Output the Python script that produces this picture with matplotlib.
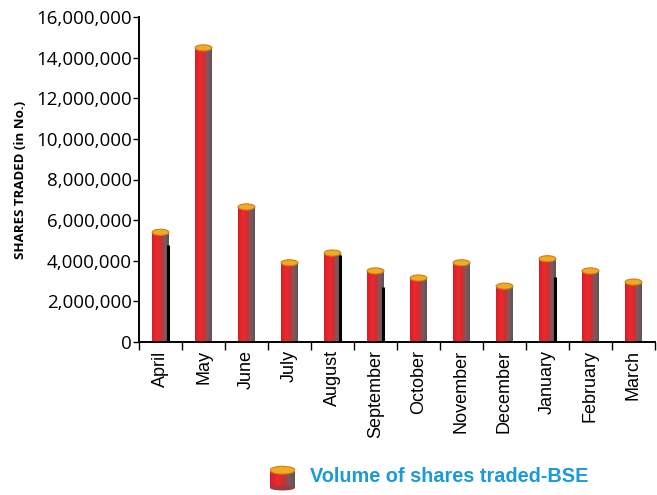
import numpy as np
import matplotlib.pyplot as plt
from matplotlib.colors import LinearSegmentedColormap
from matplotlib.patches import Ellipse, Rectangle
from matplotlib.ticker import FuncFormatter

# Monthly volume of shares traded on BSE
months = ['April', 'May', 'June', 'July', 'August', 'September', 'October',
          'November', 'December', 'January', 'February', 'March']
volume = [5400000, 14480000, 6650000, 3900000, 4380000, 3500000, 3150000,
          3900000, 2750000, 4100000, 3500000, 2950000]

# dark edge strokes printed beside a few of the cylinders
edge_marks = {'April': 4800000, 'August': 4300000, 'September': 2700000, 'January': 3200000}

bar_cmap = LinearSegmentedColormap.from_list(
    'cyl', [(0.0, '#d41e28'), (0.3, '#ee2a2c'), (0.55, '#d22c30'),
            (0.75, '#7e5a5e'), (1.0, '#5e5458')])
top_color = '#f2aa22'
top_edge = '#c8801a'

fig = plt.figure(figsize=(6.57, 4.95), dpi=100)
ax = fig.add_axes([139 / 657, 153 / 495, 516 / 657, 325 / 495])

x = np.arange(len(months))
bw = 0.39
grad = np.linspace(0, 1, 64).reshape(1, -1)
bars = ax.bar(x, volume, width=bw, color='none', edgecolor='none', zorder=2)
for rect, val in zip(bars, volume):
    x0 = rect.get_x()
    im = ax.imshow(grad, cmap=bar_cmap, extent=[x0, x0 + bw, 0, val],
                   aspect='auto', zorder=2, interpolation='bicubic')
    im.set_clip_path(rect)
    ax.add_patch(Ellipse((rect.get_x() + bw / 2, val), bw, 300000,
                         facecolor=top_color, edgecolor=top_edge, lw=0.8, zorder=3))

for m, top in edge_marks.items():
    i = months.index(m)
    ax.vlines(i + bw / 2 - 0.01, 0, top, color='black', lw=2.2, zorder=3)

ax.set_xlim(-0.5, len(months) - 0.5)
ax.set_ylim(0, 16000000)
ax.set_yticks(np.arange(0, 16000001, 2000000))
ax.yaxis.set_major_formatter(FuncFormatter(lambda v, p: f'{int(v):,}'))
ax.set_xticks(x)
ax.set_xticklabels(months, rotation=90, fontsize=13, family='Liberation Sans')
ax.set_xticks(np.arange(-0.5, len(months), 1), minor=True)
ax.tick_params(axis='x', which='major', length=0, pad=6)
ax.tick_params(axis='x', which='minor', length=6, width=1)
ax.tick_params(axis='y', length=4, width=1, pad=1)
for lab in ax.get_yticklabels():
    lab.set_fontsize(13.5)
    lab.set_family('Open Sans')

for s in ['top', 'right']:
    ax.spines[s].set_visible(False)
for s in ['left', 'bottom']:
    ax.spines[s].set_linewidth(1.4)

ax.set_ylabel('SHARES TRADED (in No.)', fontsize=9.5, fontweight='bold',
              family='Open Sans', labelpad=7)

# legend: small cylinder icon plus label
lax = fig.add_axes([270 / 657, 4 / 495, 25 / 657, 26 / 495])
lax.set_xlim(0, 1)
lax.set_ylim(0, 1)
lax.axis('off')
icon = Rectangle((0, 0.12), 1, 0.68, facecolor='none', edgecolor='none')
lax.add_patch(icon)
im = lax.imshow(grad, cmap=bar_cmap, extent=[0, 1, 0.12, 0.8], aspect='auto')
im.set_clip_path(icon)
lax.add_patch(Ellipse((0.5, 0.8), 1, 0.3, facecolor=top_color, edgecolor=top_edge, lw=0.8))
lax.add_patch(Ellipse((0.5, 0.12), 1, 0.2, facecolor='#a03a40', edgecolor='none', zorder=0))

fig.text(310 / 657, 18 / 495, 'Volume of shares traded-BSE', color='#1a9ad6',
         fontsize=14.3, fontweight='bold', family='Liberation Sans', va='center')

fig.savefig('out.png', dpi=100)
